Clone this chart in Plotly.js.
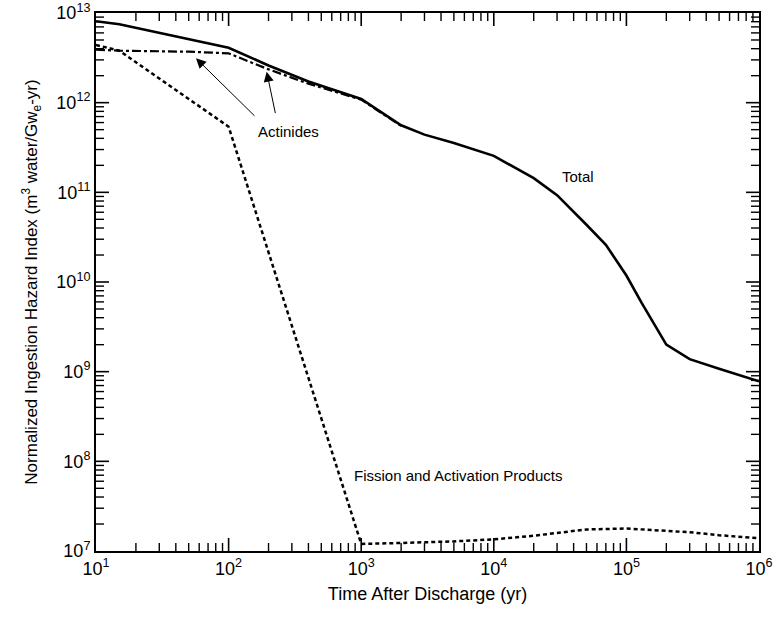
<!DOCTYPE html>
<html>
<head>
<meta charset="utf-8">
<script src="https://cdn.plot.ly/plotly-3.0.1.min.js"></script>
<style>
html,body{margin:0;padding:0;background:#fff;}
#chart{width:775px;height:620px;}
</style>
</head>
<body>
<div id="chart"></div>
<script>
// Time after discharge (yr)
const totalYears = [10, 15, 100, 200, 400, 1000, 2000, 3000, 5000, 10000, 20000, 30000, 50000, 70000, 100000, 130000, 200000, 300000, 500000, 1000000];
const totalHazard = [8.1e12, 7.5e12, 4.1e12, 2.6e12, 1.72e12, 1.1e12, 5.6e11, 4.4e11, 3.55e11, 2.55e11, 1.44e11, 9.3e10, 4.35e10, 2.6e10, 1.18e10, 5.9e9, 2.0e9, 1.38e9, 1.08e9, 7.8e8];

const actinideYears = [10, 15, 50, 100, 200, 400, 1000, 2000];
const actinideHazard = [3.9e12, 3.8e12, 3.7e12, 3.55e12, 2.35e12, 1.63e12, 1.08e12, 5.5e11];

const fissionYears = [10, 15, 100, 1000, 2000, 5000, 10000, 20000, 50000, 100000, 300000, 500000, 1000000];
const fissionHazard = [4.4e12, 3.8e12, 5.4e11, 1.2e7, 1.23e7, 1.28e7, 1.35e7, 1.48e7, 1.74e7, 1.78e7, 1.62e7, 1.5e7, 1.39e7];

// Tick labels (decades)
const xExponents = [1, 2, 3, 4, 5, 6];
const yExponents = [7, 8, 9, 10, 11, 12, 13];

const FONT = 'Liberation Sans, Arial, Helvetica, sans-serif';

const W = 775, H = 620, M = {l: 96, r: 16, t: 13, b: 69};
const MAJOR_LEN = 13, MINOR_LEN = 8;

function majorVals(exps) { return exps.map(e => Math.pow(10, e)); }
function majorText(exps) { return exps.map(e => '10<sup>' + e + '</sup>'); }
function minorVals(exps) {
  const out = [];
  for (let i = 0; i < exps.length - 1; i++) {
    for (let d = 2; d <= 9; d++) out.push(d * Math.pow(10, exps[i]));
  }
  return out;
}

// Inside tick marks on all four sides as pixel-length shapes anchored on the axes' own scales
const shapes = [];
function xTicks(vals, len, w) {
  vals.forEach(v => {
    shapes.push({type: 'line', layer: 'above', xref: 'x', yref: 'paper', ysizemode: 'pixel', yanchor: 0,
                 x0: v, x1: v, y0: 0, y1: len, line: {color: '#000', width: w}});
    shapes.push({type: 'line', layer: 'above', xref: 'x', yref: 'paper', ysizemode: 'pixel', yanchor: 1,
                 x0: v, x1: v, y0: 0, y1: -len, line: {color: '#000', width: w}});
  });
}
function yTicks(vals, len, w) {
  vals.forEach(v => {
    shapes.push({type: 'line', layer: 'above', yref: 'y', xref: 'paper', xsizemode: 'pixel', xanchor: 0,
                 y0: v, y1: v, x0: 0, x1: len, line: {color: '#000', width: w}});
    shapes.push({type: 'line', layer: 'above', yref: 'y', xref: 'paper', xsizemode: 'pixel', xanchor: 1,
                 y0: v, y1: v, x0: 0, x1: -len, line: {color: '#000', width: w}});
  });
}
xTicks(majorVals(xExponents).slice(1, -1), MAJOR_LEN, 1.6);
xTicks(minorVals(xExponents), MINOR_LEN, 1.4);
yTicks(majorVals(yExponents).slice(1, -1), MAJOR_LEN, 1.6);
yTicks(minorVals(yExponents), MINOR_LEN, 1.4);

const traces = [
  {x: actinideYears, y: actinideHazard, mode: 'lines', name: 'Actinides',
   line: {color: '#000', width: 2.2, dash: '9px,3px,3px,3px'}},
  {x: fissionYears, y: fissionHazard, mode: 'lines', name: 'Fission and Activation Products',
   line: {color: '#000', width: 2.5, dash: '4px,3px'}},
  {x: totalYears, y: totalHazard, mode: 'lines', name: 'Total',
   line: {color: '#000', width: 2.6}}
];

function axis(exps, extra) {
  return Object.assign({
    type: 'log',
    tickmode: 'array',
    tickvals: majorVals(exps),
    ticktext: majorText(exps),
    showgrid: false,
    zeroline: false,
    showline: true,
    linecolor: '#000',
    linewidth: 2,
    mirror: true,
    ticks: '',
    tickfont: {family: FONT, size: 18, color: '#000'}
  }, extra);
}

const layout = {
  width: W, height: H,
  margin: M,
  paper_bgcolor: '#fff', plot_bgcolor: '#fff',
  showlegend: false,
  font: {family: FONT, color: '#000'},
  xaxis: axis(xExponents, {
    range: [xExponents[0], xExponents[xExponents.length - 1]],
    title: {text: 'Time After Discharge (yr)', font: {family: FONT, size: 18, color: '#000'}, standoff: 10}
  }),
  yaxis: axis(yExponents, {
    range: [yExponents[0], yExponents[yExponents.length - 1]],
    title: {text: 'Normalized Ingestion Hazard Index (m<sup>3</sup> water/Gw<sub>e</sub>-yr)', font: {family: FONT, size: 17, color: '#000'}, standoff: 14}
  }),
  shapes: shapes,
  annotations: [
    {x: 2.448, y: 11.673, xref: 'x', yref: 'y', text: 'Actinides', showarrow: false,
     font: {family: FONT, size: 15, color: '#000'}},
    {x: 4.635, y: 11.172, xref: 'x', yref: 'y', text: 'Total', showarrow: false,
     font: {family: FONT, size: 15, color: '#000'}},
    {x: 3.73, y: 7.843, xref: 'x', yref: 'y', text: 'Fission and Activation Products', showarrow: false,
     font: {family: FONT, size: 15, color: '#000'}},
    {x: 1.754, y: 12.495, xref: 'x', yref: 'y', text: '', showarrow: true,
     ax: 60, ay: 59, arrowhead: 2, arrowsize: 2, arrowwidth: 1, arrowcolor: '#000', standoff: 0, startstandoff: 0},
    {x: 2.287, y: 12.346, xref: 'x', yref: 'y', text: '', showarrow: true,
     ax: 9, ay: 43, arrowhead: 2, arrowsize: 2, arrowwidth: 1, arrowcolor: '#000', standoff: 0, startstandoff: 0}
  ]
};

Plotly.newPlot('chart', traces, layout, {displayModeBar: false, staticPlot: true});
</script>
</body>
</html>
